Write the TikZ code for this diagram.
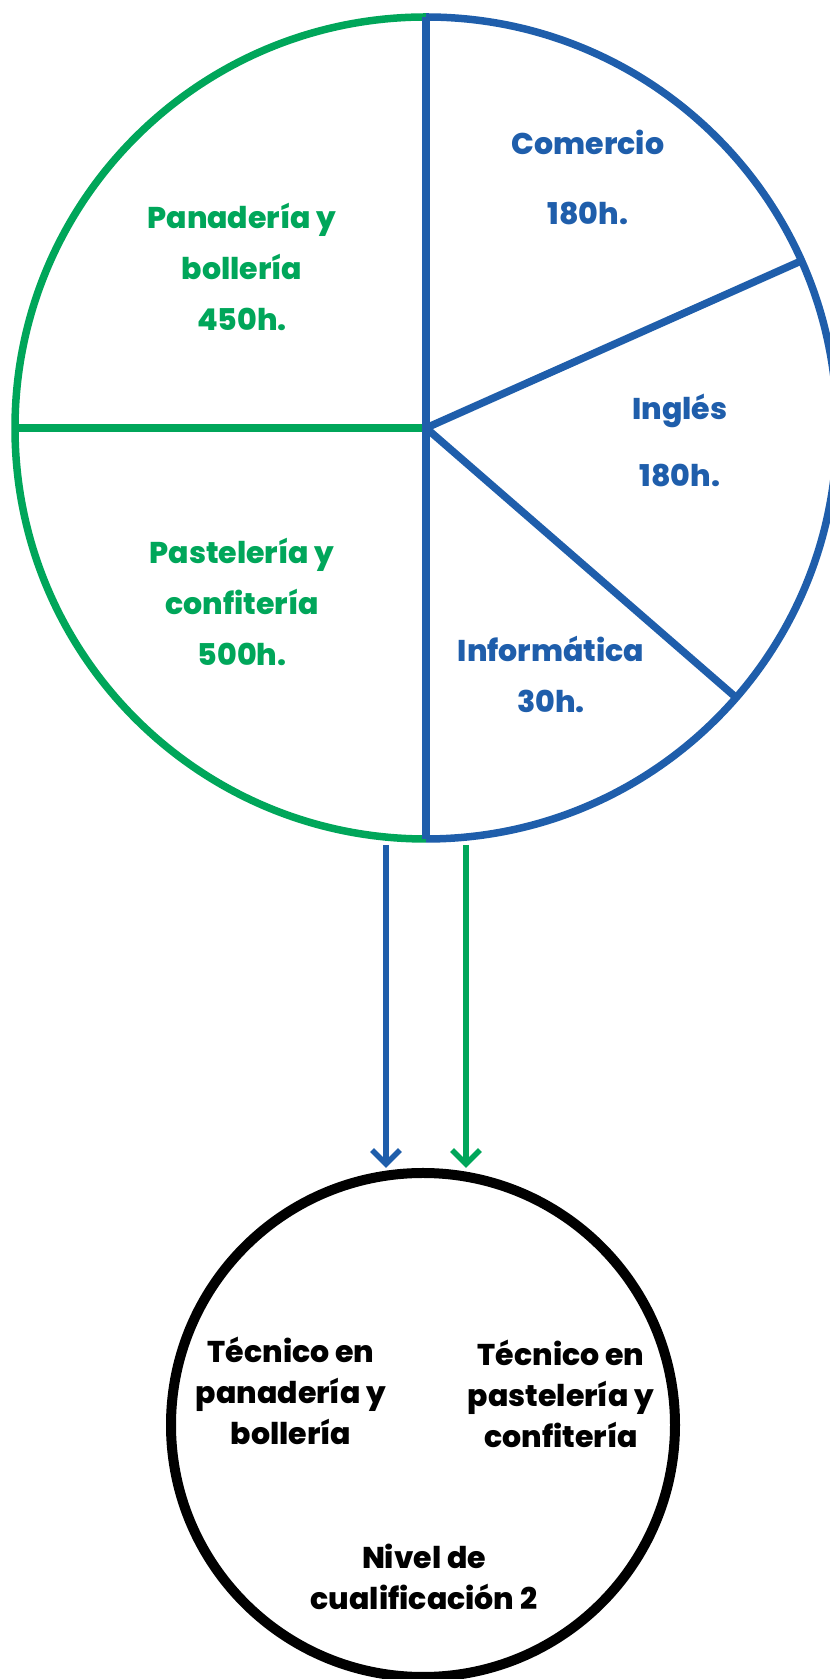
\documentclass[tikz,border=0pt]{standalone}
\usepackage{fontspec}
\setmainfont{Poppins}[BoldFont={Poppins ExtraBold}]
\usetikzlibrary{arrows.meta}
\definecolor{pieblue}{RGB}{31,94,171}
\definecolor{piegreen}{RGB}{0,166,90}

\begin{document}
\begin{tikzpicture}[x=1pt,y=1pt]
\tikzstyle{slice} = [line width=7.5pt]
\tikzstyle{lbl} = [align=center, inner sep=0pt, font=\bfseries\fontsize{30}{51}\selectfont]
\tikzstyle{lblk} = [align=center, inner sep=0pt, font=\bfseries\fontsize{30}{41}\selectfont]
\tikzstyle{flow} = [line width=5.5pt, -{Straight Barb[length=14pt,width=28pt]}]

\clip (0,0) rectangle (830,1679);

\coordinate (c) at (426,1251);

% pie
\draw[slice,piegreen] ([shift=(90:411)]c) arc (90:270:411);
\draw[slice,pieblue] ([shift=(-90:411)]c) arc (-90:90:411);
\draw[slice,piegreen] (c) -- ([shift=(180:411)]c);
\draw[slice,pieblue] ([shift=(90:411)]c) -- ([shift=(-90:411)]c);
\draw[slice,pieblue] (c) -- ([shift=(24:411)]c);
\draw[slice,pieblue] (c) -- ([shift=(-41:411)]c);

\node[lbl,pieblue] (com) at (588,1502) {Comercio\\[19pt]180h.};
\node[lbl,piegreen] (pan) at (242,1412) {Panadería y\\bollería\\450h.};
\node[lbl,pieblue] (ing) at (680,1239) {Inglés\\[16pt]180h.};
\node[lbl,piegreen] (pas) at (242,1077) {Pastelería y\\confitería\\500h.};
\node[lbl,pieblue] (inf) at (551,1005) {Informática\\30h.};

% titulo
\node[draw, circle, line width=10pt, minimum size=504pt, inner sep=0pt] (niv) at (423,254) {};

\node[lblk] (tpan) at (291,288) {Técnico en\\panadería y\\bollería};
\node[lblk] (tpas) at (561,285) {Técnico en\\pastelería y\\confitería};
\node[lblk] (nivel) at (424,102) {Nivel de\\cualificación 2};

\coordinate (ab) at (386,834);
\coordinate (ag) at (466,834);
\draw[flow,pieblue] (ab) -- (ab |- niv.north);
\draw[flow,piegreen] (ag) -- (ag |- niv.north);

\end{tikzpicture}
\end{document}
